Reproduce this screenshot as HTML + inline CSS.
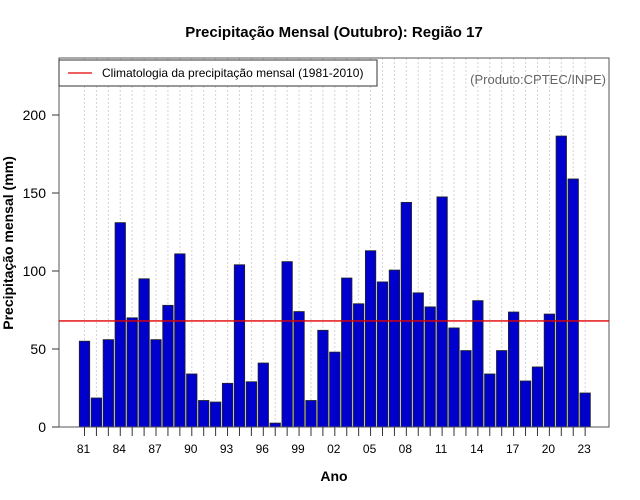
<!DOCTYPE html>
<html><head><meta charset="utf-8"><style>
body{margin:0;background:#fff;}
svg{display:block;font-family:"Liberation Sans",sans-serif;}
</style></head><body>
<svg id="chart" width="640" height="500" viewBox="0 0 640 500">
<text x="334" y="37" text-anchor="middle" font-size="15" font-weight="bold">Precipitação Mensal (Outubro): Região 17</text>
<g id="grid"></g>
<g id="bars"></g>
<g id="xaxis"></g>
<g id="yaxis"></g>
<rect x="59" y="58" width="550" height="369" fill="none" stroke="#555" stroke-width="1"/>
<line id="clim" x1="59" x2="609" stroke="#e00000" stroke-width="1.3"/>
<g>
<rect x="59" y="60" width="318" height="26" fill="#fff" stroke="#333"/>
<line x1="68" x2="92" y1="73" y2="73" stroke="#e00000" stroke-width="1.3"/>
<text x="102" y="77" font-size="12">Climatologia da precipitação mensal (1981-2010)</text>
</g>
<text x="606" y="84" text-anchor="end" font-size="13" fill="#666">(Produto:CPTEC/INPE)</text>
<text x="334" y="481" text-anchor="middle" font-size="14" font-weight="bold">Ano</text>
<text transform="translate(13,243) rotate(-90)" text-anchor="middle" font-size="14" font-weight="bold">Precipitação mensal (mm)</text>
</svg>
<script>
const years = [81,82,83,84,85,86,87,88,89,90,91,92,93,94,95,96,97,98,99,0,1,2,3,4,5,6,7,8,9,10,11,12,13,14,15,16,17,18,19,20,21,22,23];
const values = [55,18.6,56,131,70,95,56,78,111,34,17,16,28,104,29,41,2.5,106,74,17,62,48,95.5,79,113,93,100.6,144,86,77,147.5,63.5,49,81,34,49,73.7,29.5,38.5,72.4,186.5,159,21.8];
const climatology = 68;
const yTicks = [0,50,100,150,200];
const NS="http://www.w3.org/2000/svg";
const y0=427, ppu=1.56, x0=84.5, step=11.92, bw=10.4;
const yS=v=>y0-v*ppu, xS=i=>x0+i*step;
function mk(t,a,p){const e=document.createElementNS(NS,t);for(const k in a)e.setAttribute(k,a[k]);p.appendChild(e);return e;}
const g=document.getElementById('grid'),b=document.getElementById('bars'),xa=document.getElementById('xaxis'),ya=document.getElementById('yaxis');
years.forEach((yr,i)=>{
 const x=xS(i);
 const gl=mk('line',{x1:x,x2:x,y1:58,y2:427,stroke:'#d4d4d4','stroke-dasharray':'2,2'},g);
 
 
 const r=mk('rect',{x:x-bw/2,y:yS(values[i]),width:bw,height:values[i]*ppu,fill:'#0000cd',stroke:'#222','stroke-width':0.8},b);
 
 
 const t=mk('line',{x1:x,x2:x,y1:427,y2:436,stroke:'#333'},xa);
 
 
 if(i%3===0){const l=mk('text',{x:x-1,y:453,'text-anchor':'middle','font-size':12},xa);l.textContent=String(yr).padStart(2,'0');
 
 }
});
yTicks.forEach(v=>{
 const y=yS(v);
 const t=mk('line',{x1:52,x2:59,y1:y,y2:y,stroke:'#333'},ya);
 
 
 const l=mk('text',{x:46,y:y+5,'text-anchor':'end','font-size':14},ya);l.textContent=v;
 
 
});
const c=document.getElementById('clim');c.setAttribute('y1',yS(climatology));c.setAttribute('y2',yS(climatology));
</script>
</body></html>
